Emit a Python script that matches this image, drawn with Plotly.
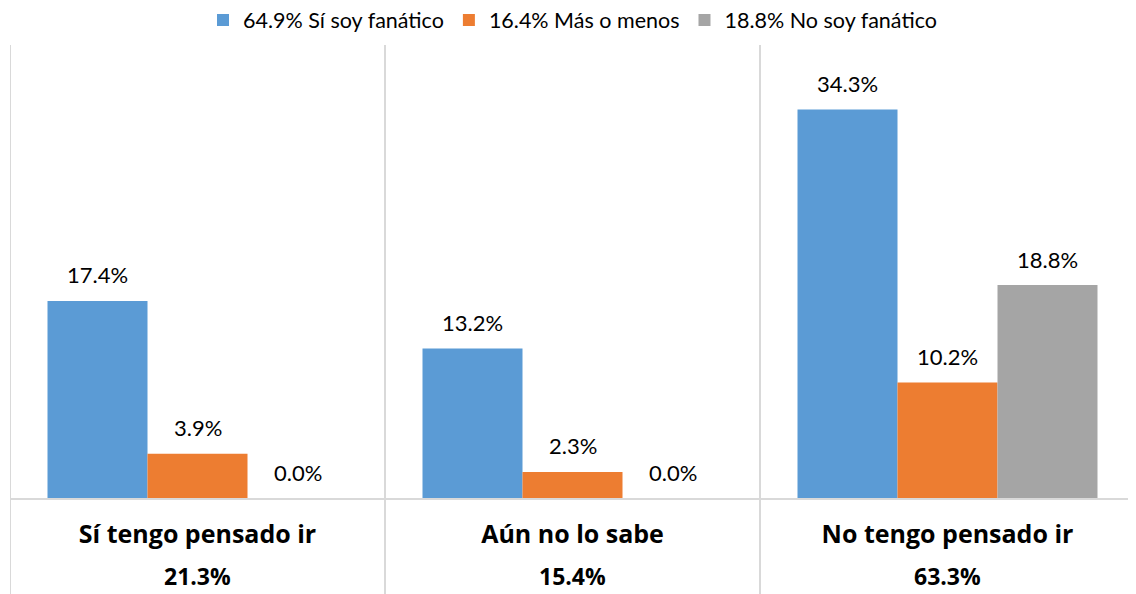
import plotly.graph_objects as go

categories = ["Sí tengo pensado ir", "Aún no lo sabe", "No tengo pensado ir"]
category_totals = ["21.3%", "15.4%", "63.3%"]
series_names = ["64.9% Sí soy fanático", "16.4% Más o menos", "18.8% No soy fanático"]
si_fanatico = [17.4, 13.2, 34.3]
mas_o_menos = [3.9, 2.3, 10.2]
no_fanatico = [0.0, 0.0, 18.8]
colors = ["#5B9BD5", "#ED7D31", "#A5A5A5"]

series = [si_fanatico, mas_o_menos, no_fanatico]
x_idx = list(range(len(categories)))
bargap = 0.2
bar_w = (1 - bargap) / len(series)

FONT = "Lato"
BOLD_FONT = "Open Sans"
fig = go.Figure()
for name, vals, col in zip(series_names, series, colors):
    fig.add_trace(go.Bar(
        x=x_idx, y=vals, name=name, marker=dict(color=col, line=dict(width=0)),
        hoverinfo="skip",
    ))

annotations = []
for j, vals in enumerate(series):
    for i, v in enumerate(vals):
        annotations.append(dict(
            x=i + (j - (len(series) - 1) / 2) * bar_w, y=v, xref="x", yref="y",
            text=f"{v:.1f}%", showarrow=False, yanchor="middle", yshift=26,
            font=dict(family=FONT, size=22, color="#000000"),
        ))
for i, t in enumerate(category_totals):
    annotations.append(dict(
        x=i, y=0, xref="x", yref="paper", text=f"<b>{t}</b>", showarrow=False,
        yanchor="middle", yshift=-78, font=dict(family=BOLD_FONT, size=23, color="#000000"),
    ))

shapes = []
for k in range(len(categories) + 1):
    shapes.append(dict(
        type="line", xref="x", yref="paper", x0=k - 0.5, x1=k - 0.5,
        y0=1.0, y1=-0.25, line=dict(color="#D9D9D9", width=2), layer="below",
    ))

# page body has an 8px margin, so the figure is sized/offset to compensate
fig.update_layout(
    width=1128, height=586,
    margin=dict(l=2, r=1, t=37, b=96, autoexpand=False),
    paper_bgcolor="white", plot_bgcolor="white",
    barmode="group", bargap=bargap, bargroupgap=0,
    font=dict(family=FONT, color="#000000"),
    legend=dict(orientation="h", x=0.5, xanchor="center", y=1.055, yanchor="middle",
                font=dict(family=FONT, size=21.5, color="#000000"), traceorder="normal",
                itemwidth=30),
    xaxis=dict(
        tickmode="array", tickvals=x_idx, ticktext=[f"<b>{c}</b>" for c in categories],
        range=[-0.5, len(categories) - 0.5], showline=True, linecolor="#D9D9D9", linewidth=2,
        ticks="outside", ticklen=13, tickcolor="rgba(0,0,0,0)",
        tickfont=dict(family=BOLD_FONT, size=25, color="#000000"), showgrid=False, zeroline=False,
    ),
    yaxis=dict(range=[0, 40], visible=False, showgrid=False, zeroline=False),
    annotations=annotations, shapes=shapes,
)

fig.write_html("out.html")
